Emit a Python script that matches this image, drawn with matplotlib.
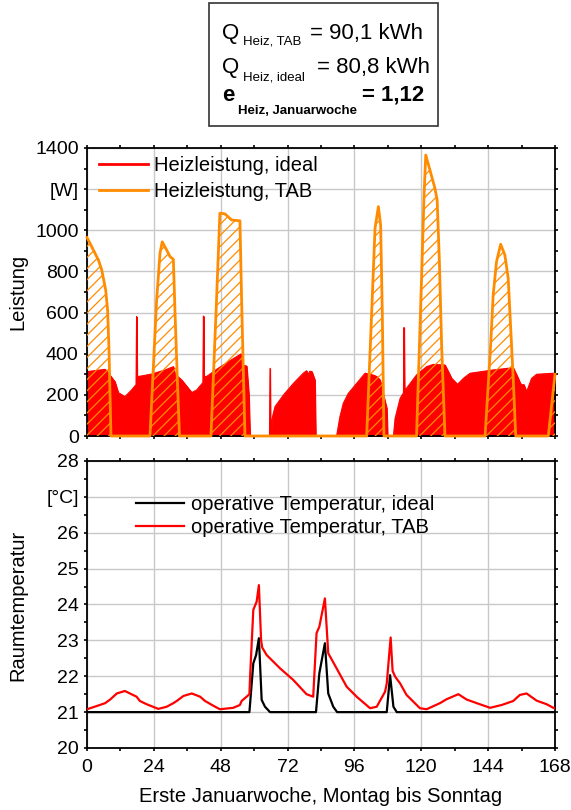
import matplotlib
matplotlib.use("Agg")
import matplotlib.pyplot as plt
from matplotlib.patches import Rectangle
from matplotlib.ticker import MultipleLocator
import numpy as np

plt.rcParams['font.family'] = ['Liberation Sans', 'DejaVu Sans']
plt.rcParams['hatch.linewidth'] = 0.9

# ---------------- data ----------------
# Heizleistung TAB (W)
t_tab = [0, 1.7, 4.1, 5.3, 6.7, 7.4, 7.9, 8.6,
         22.6, 25.0, 26.2, 27.0, 28.6, 29.8, 31.0, 31.6, 32.5, 33.2,
         44.5, 46.5, 47.7, 49.5, 51.9, 54.9, 55.5, 56.7,
         100.4, 102.2, 103.4, 104.6, 105.4, 106.0, 106.6,
         118.3, 120.1, 121.0, 121.6, 123.1, 124.9, 125.7, 126.5, 127.3, 128.5,
         142.9, 144.9, 145.8, 147.0, 148.5, 150.0, 151.2, 152.1, 153.0, 153.9,
         165.6, 168]
w_tab = [965, 920, 855, 807, 710, 612, 418, 0,
         0, 661, 888, 944, 904, 872, 859, 600, 250, 0,
         0, 661, 1083, 1080, 1050, 1046, 661, 0,
         0, 604, 1010, 1115, 1026, 604, 0,
         0, 767, 1171, 1366, 1293, 1204, 1147, 847, 442, 0,
         0, 442, 685, 847, 932, 880, 767, 523, 280, 0,
         0, 300]

# Heizleistung ideal (W)
t_ideal = [0, 3, 6.5, 8, 10, 11.2, 13.6, 16, 17.6, 17.8, 18.0, 23.2, 28, 31, 31.6,
           34, 37.6, 39.4, 41.6, 41.8, 42.0, 43, 47.1, 50.7, 55.3, 55.6, 57.3, 58.1,
           58.5, 65.5, 65.7, 65.9, 66.2, 66.3, 67.5, 70.5, 74.1, 77.6, 78.8, 79.5,
           80.0, 80.7, 81.8, 82.1, 89.6, 90.8, 92, 93.8, 96.8, 99.8, 102.8, 104,
           105.2, 106.4, 107.6, 107.9, 110, 110.6, 112.4, 113.6, 113.8, 114.0, 114.7,
           118.3, 121.9, 124.3, 128.5, 130.9, 133, 135.1, 137.5, 145.8, 153, 154.8,
           155.4, 156, 156.8, 157.8, 159.6, 161.4, 167.4, 168]
w_ideal = [313, 318, 324, 300, 264, 211, 191, 224, 250, 580, 288, 301, 321, 337, 300,
           272, 211, 224, 260, 583, 288, 290, 329, 361, 399, 345, 340, 200,
           0, 0, 329, 0, 0, 78, 143, 199, 256, 305, 317, 300,
           315, 313, 272, 0, 0, 94, 159, 207, 256, 305, 296, 289,
           272, 199, 135, 0, 0, 86, 183, 210, 527, 225, 232,
           297, 337, 348, 345, 280, 251, 280, 305, 321, 332, 280,
           260, 248, 250, 215, 280, 300, 305, 305]

# operative Temperatur, ideal (degC)
t_op_ideal = [0, 58.3, 59.7, 60.7, 61.7, 62.7, 63.9, 65.7, 82.2, 83.4, 85.4, 86.6,
              88.4, 89.8, 107.6, 108.8, 110, 111.2, 168]
T_op_ideal = [21, 21, 22.36, 22.59, 23.06, 21.34, 21.15, 21, 21, 22.08, 22.92, 21.52,
              21.15, 21, 21, 22.03, 21.15, 21, 21]

# operative Temperatur, TAB (degC)
t_op_tab = [0, 3.5, 6.5, 8.3, 10.7, 13.6, 15.4, 17.8, 19, 21.4, 25.6, 28.6, 31, 32.2,
            34.6, 37.6, 40.6, 42.4, 45.3, 47.7, 52.5, 54.9, 55.5, 57.3, 58.3, 58.6,
            59.7, 60.9, 61.7, 62.5, 62.9, 64.5, 69.3, 74, 78.8, 81.2, 82.4, 83.4,
            85.4, 86.6, 89.6, 93.2, 96.8, 101.6, 104, 107, 107.6, 109, 109.7, 110.6,
            112.4, 114.7, 119.5, 121.9, 126.7, 129.1, 133.3, 136.3, 139.9, 144.7,
            148.9, 153, 155.4, 157.8, 161.4, 165, 167.4, 168]
T_op_tab = [21.08, 21.17, 21.25, 21.35, 21.52, 21.59, 21.52, 21.43, 21.31, 21.22, 21.09,
            21.15, 21.25, 21.31, 21.45, 21.52, 21.43, 21.31, 21.18, 21.08, 21.12, 21.2,
            21.31, 21.43, 21.5, 22.08, 23.85, 24.08, 24.54, 23.0, 22.8, 22.59, 22.22,
            21.9, 21.5, 21.43, 23.2, 23.38, 24.17, 22.64, 22.22, 21.71, 21.43, 21.11,
            21.15, 21.57, 21.8, 23.08, 22.15, 21.99, 21.8, 21.48, 21.11, 21.08, 21.25,
            21.36, 21.5, 21.35, 21.25, 21.12, 21.2, 21.31, 21.48, 21.52, 21.32, 21.22,
            21.12, 21.1]

x_ticks = [0, 24, 48, 72, 96, 120, 144, 168]
p_ticks = [0, 200, 400, 600, 800, 1000, 1200, 1400]
p_labels = ['0', '200', '400', '600', '800', '1000', '[W]', '1400']
T_ticks = [20, 21, 22, 23, 24, 25, 26, 27, 28]
T_labels = ['20', '21', '22', '23', '24', '25', '26', '[°C]', '28']

RED = '#ff0000'
ORANGE = '#ff8c00'
GRID = '#c8c8c8'

W, H = 571, 810
fig = plt.figure(figsize=(W / 100, H / 100), dpi=100)


def fx(x):
    return x / W


def fy(y):
    return 1 - y / H


ax1 = fig.add_axes([fx(87), fy(436), fx(555) - fx(87), fy(148) - fy(436)])
ax2 = fig.add_axes([fx(87), fy(748), fx(555) - fx(87), fy(461) - fy(748)])

# ---- top chart
ax1.fill_between(t_ideal, 0, w_ideal, color=RED, linewidth=0.8, zorder=2)
ax1.fill_between(t_tab, 0, w_tab, facecolor='none', edgecolor=ORANGE, hatch='///',
                 linewidth=0, zorder=3)
ax1.plot(t_ideal, w_ideal, color=RED, lw=0.8, zorder=2)
ax1.plot(t_tab, w_tab, color=ORANGE, lw=2.0, zorder=4, clip_on=False)
ax1.plot([], [], color=RED, lw=2.0, label='Heizleistung, ideal')
ax1.plot([], [], color=ORANGE, lw=2.0, label='Heizleistung, TAB')
ax1.set_xlim(0, 168)
ax1.set_ylim(0, 1400)
ax1.set_yticks(p_ticks)
ax1.set_yticklabels(p_labels)
ax1.yaxis.set_minor_locator(MultipleLocator(100))
ax1.set_xticks(x_ticks)
ax1.set_xticklabels([])
ax1.xaxis.set_minor_locator(MultipleLocator(12))

h, l = ax1.get_legend_handles_labels()
ax1.legend(h, l, loc='upper left', bbox_to_anchor=(0.026, 0.971), frameon=False,
           fontsize=14.5, borderpad=0, borderaxespad=0, handlelength=2.4,
           handletextpad=0.3, labelspacing=0.35)

# ---- bottom chart
ax2.plot(t_op_ideal, T_op_ideal, color='black', lw=1.6, zorder=3,
         label='operative Temperatur, ideal')
ax2.plot(t_op_tab, T_op_tab, color=RED, lw=1.6, zorder=4,
         label='operative Temperatur, TAB')
ax2.set_xlim(0, 168)
ax2.set_ylim(20, 28)
ax2.set_yticks(T_ticks)
ax2.set_yticklabels(T_labels)
ax2.yaxis.set_minor_locator(MultipleLocator(0.5))
ax2.set_xticks(x_ticks)
ax2.xaxis.set_minor_locator(MultipleLocator(12))
ax2.legend(loc='upper left', bbox_to_anchor=(0.105, 0.881), frameon=False,
           fontsize=14.5, borderpad=0, borderaxespad=0, handlelength=2.4,
           handletextpad=0.3, labelspacing=0.17)

for ax in (ax1, ax2):
    ax.set_axisbelow(True)
    ax.grid(True, which='major', color=GRID, lw=1.0)
    for s in ax.spines.values():
        s.set_linewidth(1.3)
        s.set_color('black')
    ax.tick_params(which='both', direction='out', length=2, width=1.2,
                   top=True, right=True, labelsize=14, pad=4)
    ax.tick_params(axis='x', pad=6)

fig.text(fx(18), fy(292), 'Leistung', rotation=90, ha='center', va='center', fontsize=14.5)
fig.text(fx(18), fy(605), 'Raumtemperatur', rotation=90, ha='center', va='center', fontsize=14.5)
fig.text(fx(321), fy(797), 'Erste Januarwoche, Montag bis Sonntag', ha='center',
         va='center', fontsize=14.5)

# ---- info box
fig.add_artist(Rectangle((fx(209), fy(126)), fx(438) - fx(209), fy(3) - fy(126),
                         transform=fig.transFigure, fill=False, edgecolor='#333333',
                         linewidth=1.2))
big = 16
small = 9.5
fig.text(fx(222), fy(39), 'Q', fontsize=big, va='baseline')
fig.text(fx(243), fy(44), 'Heiz, TAB', fontsize=small, va='baseline')
fig.text(fx(310), fy(39), '= 90,1 kWh', fontsize=big, va='baseline')
fig.text(fx(222), fy(73), 'Q', fontsize=big, va='baseline')
fig.text(fx(243), fy(80), 'Heiz, ideal', fontsize=small, va='baseline')
fig.text(fx(317), fy(73), '= 80,8 kWh', fontsize=big, va='baseline')
fig.text(fx(222), fy(101), 'e', fontsize=big, va='baseline', fontweight='bold')
fig.text(fx(238), fy(114), 'Heiz, Januarwoche', fontsize=small, va='baseline', fontweight='bold')
fig.text(fx(362), fy(101), '= 1,12', fontsize=big, va='baseline', fontweight='bold')

fig.savefig('out.png', dpi=100)
